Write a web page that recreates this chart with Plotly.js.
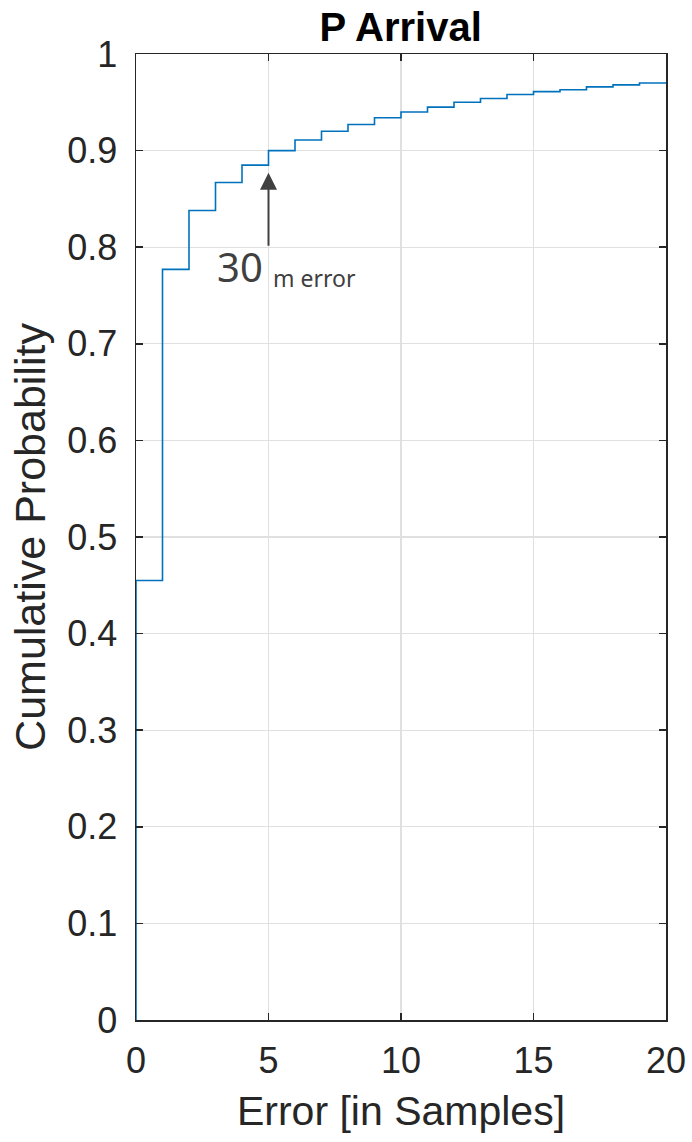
<!DOCTYPE html>
<html>
<head>
<meta charset="utf-8">
<script src="https://cdn.plot.ly/plotly-3.0.1.min.js"></script>
<style>
html,body{margin:0;padding:0;background:#fff;}
#chart{width:692px;height:1142px;}
</style>
</head>
<body>
<div id="chart"></div>
<script>
// Error in samples (step edges) and cumulative probability
const errorSamples = [0, 0, 1, 2, 3, 4, 5, 6, 7, 8, 9, 10, 11, 12, 13, 14, 15, 16, 17, 18, 19, 20];
const cumProb = [0, 0.455, 0.777, 0.838, 0.867, 0.885, 0.900, 0.911, 0.920, 0.927, 0.934, 0.940, 0.945, 0.950, 0.954, 0.958, 0.961, 0.963, 0.966, 0.968, 0.970, 0.970];
const xTicks = [0, 5, 10, 15, 20];
const yTicks = [0, 0.1, 0.2, 0.3, 0.4, 0.5, 0.6, 0.7, 0.8, 0.9, 1];
const yTickText = ['0', '0.1', '0.2', '0.3', '0.4', '0.5', '0.6', '0.7', '0.8', '0.9', '1'];
const titleText = 'P Arrival';
const xTitle = 'Error [in Samples]';
const yTitle = 'Cumulative Probability';
const annBig = '30';
const annSmall = 'm error';

const axisColor = '#262626';
const gridColor = '#e0e0e0';
const baseFont = 'Liberation Sans, Arial, Helvetica, sans-serif';

const trace = {
  x: errorSamples,
  y: cumProb,
  type: 'scatter',
  mode: 'lines',
  line: {shape: 'hv', color: '#0072BD', width: 1.6},
  hoverinfo: 'skip'
};

const axisCommon = {
  showline: true,
  linecolor: axisColor,
  linewidth: 1.5,
  mirror: 'ticks',
  ticks: 'inside',
  ticklen: 7,
  tickwidth: 1.5,
  tickcolor: axisColor,
  showgrid: true,
  gridcolor: gridColor,
  gridwidth: 1.2,
  zeroline: false,
  tickfont: {family: baseFont, size: 36, color: axisColor}
};

const layout = {
  width: 692,
  height: 1142,
  margin: {l: 136, r: 26, t: 54, b: 122},
  paper_bgcolor: '#ffffff',
  plot_bgcolor: '#ffffff',
  showlegend: false,
  title: {
    text: '<b>' + titleText + '</b>',
    font: {family: baseFont, size: 40, color: '#000000'},
    x: 0.579, xanchor: 'center', y: 0.976, yanchor: 'middle'
  },
  xaxis: Object.assign({}, axisCommon, {
    range: [0, 20],
    tickvals: xTicks,
    ticktext: xTicks.map(String),
    ticklabelstandoff: 8,
    title: {text: xTitle, font: {family: baseFont, size: 41, color: axisColor}, standoff: 16}
  }),
  yaxis: Object.assign({}, axisCommon, {
    range: [0, 1],
    tickvals: yTicks,
    ticktext: yTickText,
    ticklabelstandoff: 10,
    title: {text: yTitle, font: {family: baseFont, size: 43, color: axisColor}, standoff: 8}
  }),
  annotations: [
    {
      x: 5, y: 0.877, xref: 'x', yref: 'y',
      ax: 5, ay: 0.80, axref: 'x', ayref: 'y',
      text: '', showarrow: true,
      arrowhead: 2, arrowsize: 1.7, arrowwidth: 2, arrowcolor: '#404040',
      standoff: 0
    },
    {
      x: 3.92, y: 0.780, xref: 'x', yref: 'y',
      text: annBig, showarrow: false,
      xanchor: 'center', yanchor: 'middle',
      font: {family: 'Noto Sans, Roboto, sans-serif', size: 40, color: '#404040'}
    },
    {
      x: 5.09, y: 0.768, xref: 'x', yref: 'y',
      text: annSmall, showarrow: false,
      xanchor: 'left', yanchor: 'middle',
      font: {family: 'Noto Sans, Roboto, sans-serif', size: 23, color: '#404040'}
    }
  ]
};

Plotly.newPlot('chart', [trace], layout, {displayModeBar: false, staticPlot: true});
</script>
</body>
</html>
